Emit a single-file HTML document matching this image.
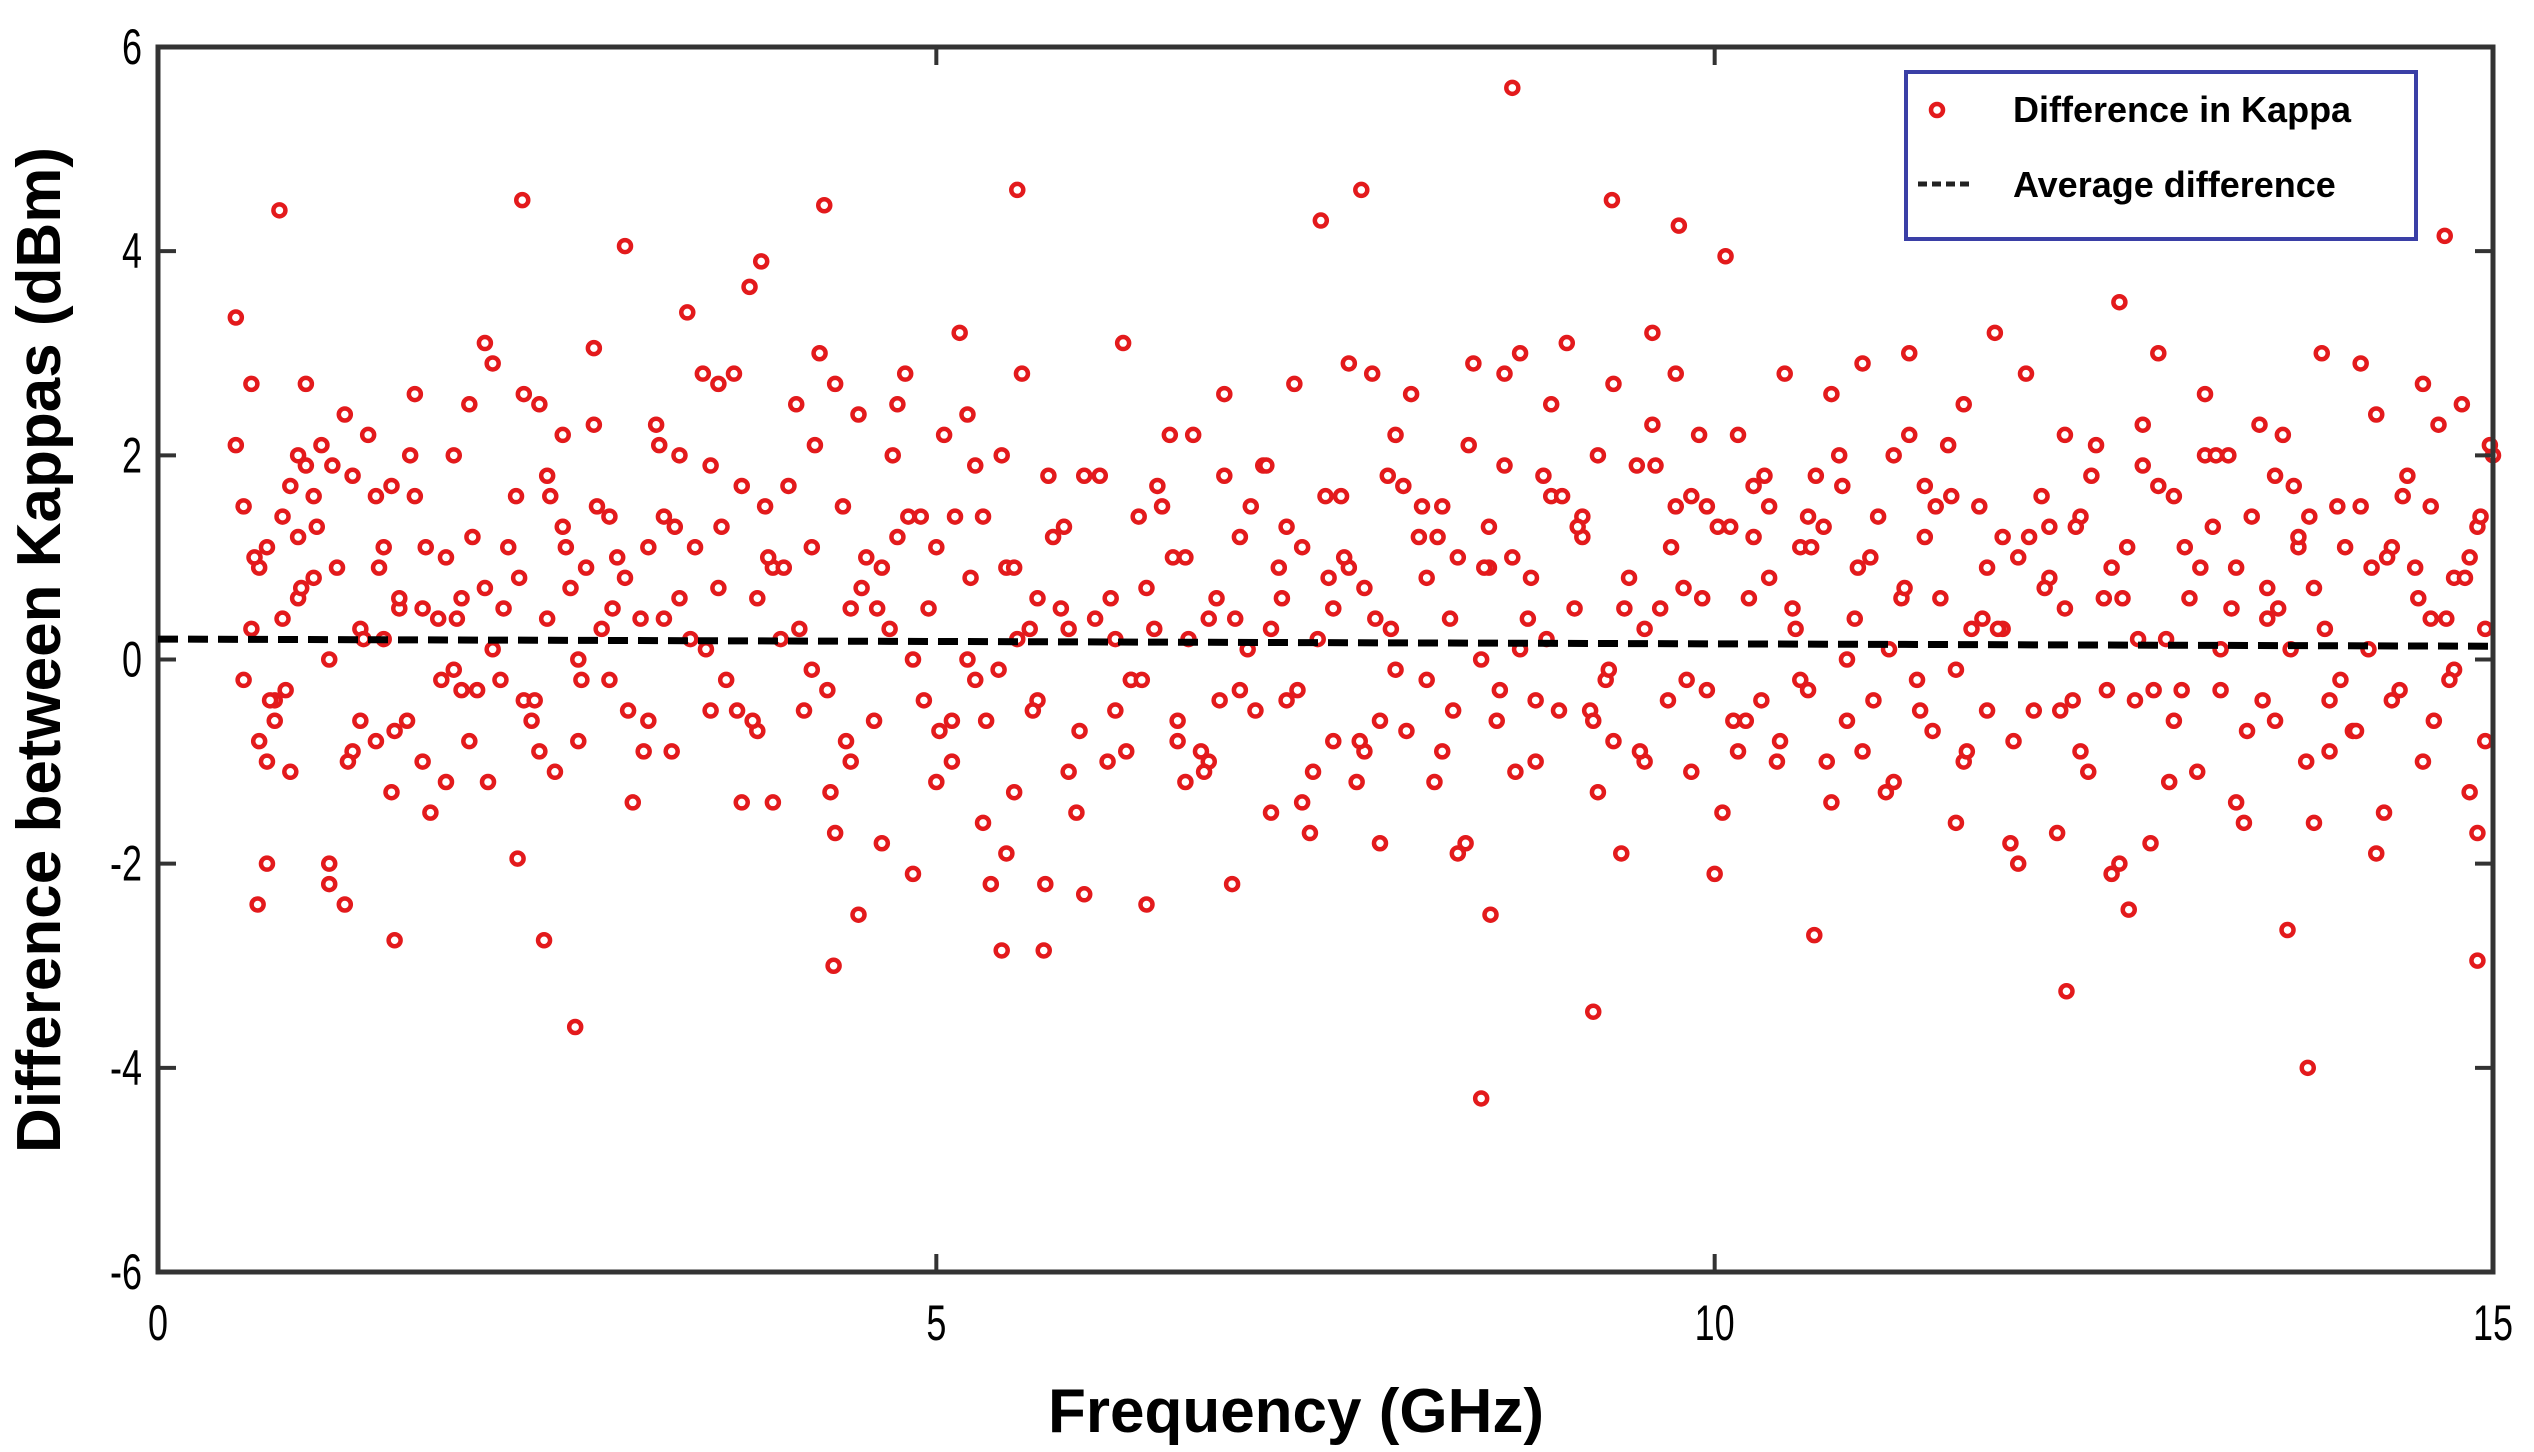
<!DOCTYPE html>
<html><head><meta charset="utf-8"><style>
html,body{margin:0;padding:0;background:#fff;}
svg{display:block;}
text{font-family:"Liberation Sans",sans-serif;}
</style></head><body>
<svg id="chart" width="2534" height="1452" viewBox="0 0 2534 1452" xmlns="http://www.w3.org/2000/svg">
<g id="marks"></g>
</svg>
<script>
const xTicks=[0,5,10,15];
const yTicks=[6,4,2,0,-2,-4,-6];
const avgStart=0.2, avgEnd=0.13;
const freqs=[
0.5,0.5,0.55,0.6,0.6,0.65,0.7,0.7,0.75,0.8,0.8,0.85,0.85,0.9,0.9,0.95,1.0,1.0,0.55,0.65,0.75,0.9,0.95,0.7,
1.05,1.1,1.1,1.1,1.15,1.2,1.25,1.3,1.3,1.35,1.4,1.4,1.45,1.5,1.5,1.55,1.55,1.6,1.65,1.7,1.7,1.75,1.8,1.85,1.85,1.9,1.95,1.95,2.0,2.0,1.25,1.45,1.65,1.9,
2.05,2.1,2.1,2.15,2.2,2.25,2.3,2.35,2.4,2.45,2.5,2.5,2.55,2.6,2.65,2.7,2.75,2.8,2.8,2.85,2.9,2.95,3.0,2.15,2.35,2.6,2.9,2.45,2.7,
3.05,3.1,3.15,3.2,3.25,3.3,3.35,3.4,3.45,3.5,3.55,3.6,3.65,3.7,3.75,3.8,3.85,3.9,3.95,4.0,3.15,3.35,3.55,3.75,3.95,3.25,3.6,3.85,
4.05,4.1,4.15,4.2,4.25,4.3,4.35,4.4,4.45,4.5,4.5,4.55,4.6,4.65,4.7,4.75,4.8,4.85,4.9,4.95,5.0,5.0,4.2,4.45,4.65,4.85,4.35,4.75,
5.05,5.1,5.15,5.2,5.25,5.3,5.3,5.35,5.4,5.45,5.5,5.5,5.55,5.6,5.65,5.7,5.75,5.8,5.85,5.9,5.95,5.95,5.1,5.25,5.45,5.65,5.85,5.2,
6.05,6.1,6.15,6.2,6.25,6.3,6.35,6.4,6.45,6.5,6.55,6.6,6.65,6.7,6.75,6.8,6.85,6.9,6.95,7.0,6.15,6.35,6.55,6.75,6.95,6.25,6.6,6.85,
7.05,7.1,7.15,7.2,7.25,7.3,7.35,7.4,7.45,7.5,7.55,7.6,7.65,7.7,7.75,7.8,7.85,7.9,7.95,8.0,7.15,7.35,7.55,7.75,7.95,7.25,7.65,7.85,
8.05,8.1,8.15,8.2,8.25,8.3,8.35,8.4,8.45,8.5,8.55,8.6,8.65,8.7,8.75,8.8,8.85,8.9,8.95,9.0,8.15,8.35,8.55,8.75,8.95,8.25,8.65,8.85,
9.05,9.1,9.15,9.2,9.25,9.3,9.35,9.4,9.45,9.5,9.55,9.6,9.65,9.7,9.75,9.8,9.85,9.9,9.95,10.0,9.15,9.35,9.55,9.75,9.95,9.25,9.6,9.85,
10.05,10.1,10.15,10.2,10.25,10.3,10.35,10.4,10.45,10.5,10.55,10.6,10.65,10.7,10.75,10.8,10.85,10.9,10.95,11.0,10.15,10.35,10.55,10.75,10.95,10.25,10.6,10.85,
11.05,11.1,11.15,11.2,11.25,11.3,11.35,11.4,11.45,11.5,11.55,11.6,11.65,11.7,11.75,11.8,11.85,11.9,11.95,12.0,11.15,11.35,11.55,11.75,11.95,11.25,11.6,11.85,
12.05,12.1,12.15,12.2,12.25,12.3,12.35,12.4,12.45,12.5,12.55,12.6,12.65,12.7,12.75,12.8,12.85,12.9,12.95,13.0,12.15,12.35,12.55,12.75,12.95,12.25,12.6,12.85,
13.05,13.1,13.15,13.2,13.25,13.3,13.35,13.4,13.45,13.5,13.55,13.6,13.65,13.7,13.75,13.8,13.85,13.9,13.95,14.0,13.15,13.35,13.55,13.75,13.95,13.25,13.6,13.85,
14.05,14.1,14.15,14.2,14.25,14.3,14.35,14.4,14.45,14.5,14.55,14.6,14.65,14.7,14.75,14.8,14.85,14.9,14.95,15.0,14.15,14.35,14.55,14.75,14.95,14.25,14.6,14.85,14.9,14.98,
0.78,2.34,4.28,5.52,7.73,7.47,8.7,9.34,9.77,10.07,13.68,14.69,3.875,3.0,2.68,8.5,9.22,12.26,13.81,14.9,4.34,5.69,5.42,2.48,1.52,0.64,1.2,2.31,10.64,13.68,8.56,12.66,
0.62,0.82,1.02,1.22,1.42,1.62,1.82,2.02,2.22,2.42,2.62,2.82,3.02,3.22,3.42,3.62,3.82,4.02,4.22,4.42,4.62,4.82,5.02,5.22,5.42,5.62,5.82,6.02,6.22,6.42,6.62,6.82,7.02,7.22,7.42,7.62,7.82,8.02,8.22,8.42,8.62,8.82,9.02,9.22,9.42,9.62,9.82,10.02,10.22,10.42,10.62,10.82,11.02,11.22,11.42,11.62,11.82,12.02,12.22,12.42,12.62,12.82,13.02,13.22,13.42,13.62,13.82,14.02,14.22,14.42,14.62,14.82,
0.72,0.92,1.12,1.32,1.52,1.72,1.92,2.12,2.32,2.52,2.72,2.92,3.12,3.32,3.52,3.72,3.92,4.12,4.32,4.52,4.72,4.92,5.12,5.32,5.52,5.72,5.92,6.12,6.32,6.52,6.72,6.92,7.12,7.32,7.52,7.72,7.92,8.12,8.32,8.52,8.72,8.92,9.12,9.32,9.52,9.72,9.92,10.12,10.32,10.52,10.72,10.92,11.12,11.32,11.52,11.72,11.92,12.12,12.32,12.52,12.72,12.92,13.12,13.32,13.52,13.72,13.92,14.12,14.32,14.52,14.72,14.92
];
const diffs=[
3.35,2.1,1.5,2.7,0.3,-0.8,-1.0,-2.0,-0.6,1.4,0.4,1.7,-1.1,2.0,1.2,2.7,0.8,1.6,-0.2,0.9,-0.4,0.6,1.9,1.1,
2.1,-2.0,-2.2,0.0,0.9,2.4,1.8,0.3,-0.6,2.2,1.6,-0.8,1.1,-1.3,1.7,0.5,0.6,-0.6,1.6,0.5,-1.0,-1.5,0.4,1.0,-1.2,2.0,0.6,-0.3,2.5,-0.8,-0.9,0.2,2.6,-0.1,
-0.3,3.1,0.7,2.9,-0.2,1.1,1.6,2.6,-0.6,2.5,0.4,1.8,-1.1,1.3,0.7,-0.8,0.9,3.05,2.3,0.3,-0.2,1.0,0.8,0.1,-0.4,2.2,1.4,-0.9,0.0,
-1.4,0.4,-0.6,2.3,1.4,-0.9,0.6,3.4,1.1,2.8,1.9,0.7,-0.2,2.8,-1.4,3.65,0.6,1.5,-1.4,0.2,1.1,2.0,-0.5,1.7,0.9,0.4,2.7,-0.7,
1.7,2.5,-0.5,1.1,3.0,-0.3,2.7,1.5,0.5,-2.5,2.4,1.0,-0.6,-1.8,0.3,1.2,2.8,-2.1,1.4,0.5,1.1,-1.2,-0.1,-1.0,0.9,0.0,-1.7,2.5,
2.2,-1.0,3.2,0.0,-0.2,-1.6,1.4,-2.2,-0.1,0.9,0.9,-1.3,2.8,0.3,0.6,-2.2,1.2,0.5,0.3,-1.5,1.8,-2.3,-0.6,1.9,-1.9,-0.4,-1.1,2.4,
1.8,-1.0,0.2,3.1,-0.2,1.4,-2.4,0.3,1.5,2.2,-0.6,1.0,2.2,-0.9,-1.0,0.6,2.6,-2.2,-0.3,0.1,-0.5,0.7,-0.8,0.4,1.2,-0.2,-1.2,1.8,
-0.5,1.9,-1.5,0.9,-0.4,2.7,1.1,-1.7,0.2,1.6,-0.8,1.6,2.9,-1.2,0.7,2.8,-0.6,1.8,-0.1,1.7,0.3,-1.4,0.5,-0.9,2.2,1.3,0.9,-1.8,
2.6,1.2,-0.2,-1.2,1.5,0.4,1.0,-1.8,2.9,0.0,1.3,-0.6,2.8,1.0,3.0,0.4,-0.4,1.8,2.5,-0.5,0.8,-1.9,0.9,0.1,1.6,-0.9,1.9,-1.0,
3.1,0.5,1.4,-0.5,2.0,-0.2,2.7,-1.9,0.8,1.9,-1.0,2.3,0.5,-0.4,1.5,0.7,-1.1,2.2,-0.3,-2.1,1.2,-0.8,0.3,2.8,1.5,-1.3,3.2,1.6,
-1.5,1.3,2.2,-0.6,1.7,-0.4,1.5,-1.0,2.8,0.5,1.1,-0.3,1.8,1.3,-1.4,2.0,-0.6,0.4,2.9,1.0,-0.9,0.8,-0.2,2.6,-0.9,1.2,1.4,0.0,
1.4,-1.3,2.0,0.6,3.0,-0.2,1.2,-0.7,0.6,2.1,-1.6,2.5,0.3,1.5,-0.5,3.2,0.3,-1.8,1.0,2.8,-1.2,1.7,-0.1,0.9,-2.0,2.2,-1.0,1.2,
-0.5,1.6,0.8,-1.7,2.2,-0.4,1.4,-1.1,2.1,0.6,-2.1,3.5,1.1,-0.4,2.3,-1.8,3.0,0.2,1.6,-0.3,1.3,-0.9,0.9,1.9,-0.6,0.5,-2.0,1.7,
0.6,-1.1,2.6,1.3,-0.3,2.0,0.9,-1.6,1.4,2.3,0.4,-0.6,2.2,0.1,1.1,-1.0,0.7,3.0,-0.4,1.5,2.0,-1.4,0.7,1.2,-0.9,0.1,1.8,-1.6,
1.1,-0.7,2.9,0.1,2.4,-1.5,1.1,-0.3,1.8,0.9,-1.0,1.5,2.3,0.4,-0.1,2.5,-1.3,1.3,-0.8,2.0,1.5,-0.4,2.7,0.8,0.3,-1.9,0.4,1.0,-1.7,2.1,
4.4,4.5,4.45,4.6,4.6,4.3,5.6,4.5,4.25,3.95,4.25,4.15,3.9,4.05,-3.6,-4.3,-3.45,-3.25,-4.0,-2.95,-3.0,-2.85,-2.85,-2.75,-2.75,-2.4,-2.4,-1.95,-2.7,-2.65,-2.5,-2.45,
1.0,-0.3,1.3,-1.0,0.9,2.0,-0.2,1.2,0.5,-0.4,1.1,1.5,-0.5,2.1,0.2,1.3,-0.6,0.9,2.1,-0.8,0.5,1.4,-0.7,0.8,2.0,-0.5,1.3,0.4,-0.9,1.7,0.2,-0.4,1.5,0.6,-1.1,1.0,0.4,-0.7,1.2,2.1,-0.3,0.8,1.6,-0.6,0.5,1.9,-0.2,1.3,0.6,-0.8,1.1,1.7,-0.4,0.7,1.5,-0.9,0.3,1.2,-0.5,1.8,0.6,-0.3,1.1,2.0,-0.7,0.5,1.4,-0.2,0.9,1.6,-0.6,0.8,
-0.4,0.7,1.9,0.2,-0.7,1.1,0.4,-1.2,0.8,1.6,-0.2,0.5,-0.9,1.3,0.1,-0.5,1.0,0.3,-1.3,0.7,2.0,-0.4,1.4,-0.6,0.2,1.8,-0.7,0.6,-0.2,1.0,-1.1,0.4,1.9,-0.3,0.8,-0.8,0.3,1.5,-0.5,0.9,-1.1,0.2,1.3,-0.1,-0.9,1.1,0.6,-0.6,1.8,0.3,-1.0,0.9,0.1,-0.5,1.6,0.4,-0.8,0.7,1.3,-0.3,0.2,-1.2,0.9,0.5,-0.4,1.7,0.3,-0.7,1.0,0.6,-0.2,1.4
];
const NS="http://www.w3.org/2000/svg";
const L=158,R=2493,T=47,B=1272;
function X(v){return L+(v-0)*(R-L)/15;}
function Y(v){return (T+B)/2-v*(B-T)/12;}
const svg=document.getElementById('chart');
const g=document.getElementById('marks');
function mk(tag,attrs,parent){const e=document.createElementNS(NS,tag);for(const k in attrs)e.setAttribute(k,attrs[k]);(parent||svg).appendChild(e);return e;}
const frame=mk('rect',{x:L,y:T,width:R-L,height:B-T,fill:'none',stroke:'#333',"stroke-width":5});


for(let i=0;i<freqs.length;i++){
  const c=mk('circle',{cx:X(freqs[i]),cy:Y(diffs[i]),r:6,fill:'#fff',stroke:'#e31a1c',"stroke-width":4.5},g);
  
  
}
const avg=mk('line',{x1:X(0),y1:Y(avgStart),x2:X(15),y2:Y(avgEnd),stroke:'#000',"stroke-width":7,"stroke-dasharray":"20 10"});


for(const t of xTicks){
  const tl=mk('line',{x1:X(t),y1:B,x2:X(t),y2:B-18,stroke:'#333',"stroke-width":4});
  
  
  const tt=mk('line',{x1:X(t),y1:T,x2:X(t),y2:T+18,stroke:'#333',"stroke-width":4});
  
  
  const lb=mk('text',{x:X(t),y:B+68,"font-size":50,"text-anchor":"middle",fill:'#000',transform:`translate(${X(t)},0) scale(0.72,1) translate(${-X(t)},0)`});
  lb.textContent=String(t);
  
  
}
for(const t of yTicks){
  const tl=mk('line',{x1:L,y1:Y(t),x2:L+18,y2:Y(t),stroke:'#333',"stroke-width":4});
  
  
  const tr=mk('line',{x1:R,y1:Y(t),x2:R-18,y2:Y(t),stroke:'#333',"stroke-width":4});
  
  
  const lb=mk('text',{x:142,y:Y(t)+17,"font-size":50,"text-anchor":"end",fill:'#000',transform:`translate(142,0) scale(0.72,1) translate(-142,0)`});
  lb.textContent=String(t);
  
  
}
</script>
<svg width="2534" height="1452" style="position:absolute;left:0;top:0;pointer-events:none" xmlns="http://www.w3.org/2000/svg">
<text x="1296" y="1432" font-size="62" font-weight="bold" text-anchor="middle" fill="#000" font-family="Liberation Sans, sans-serif">Frequency (GHz)</text>
<text transform="translate(60,650) rotate(-90)" font-size="62" font-weight="bold" text-anchor="middle" fill="#000" font-family="Liberation Sans, sans-serif">Difference between Kappas (dBm)</text>
<g>
<rect x="1906" y="72" width="510" height="167" fill="#fff" stroke="#3a3fa6" stroke-width="4"/>
<circle cx="1937" cy="110" r="6" fill="#fff" stroke="#e31a1c" stroke-width="4.5"/>
<text x="2013" y="122" font-size="36" font-weight="bold" fill="#000" font-family="Liberation Sans, sans-serif">Difference in Kappa</text>
<line x1="1918" y1="184" x2="1970" y2="184" stroke="#222" stroke-width="5" stroke-dasharray="9 5"/>
<text x="2013" y="197" font-size="36" font-weight="bold" fill="#000" font-family="Liberation Sans, sans-serif">Average difference</text>
</g>
</svg>
</body></html>
